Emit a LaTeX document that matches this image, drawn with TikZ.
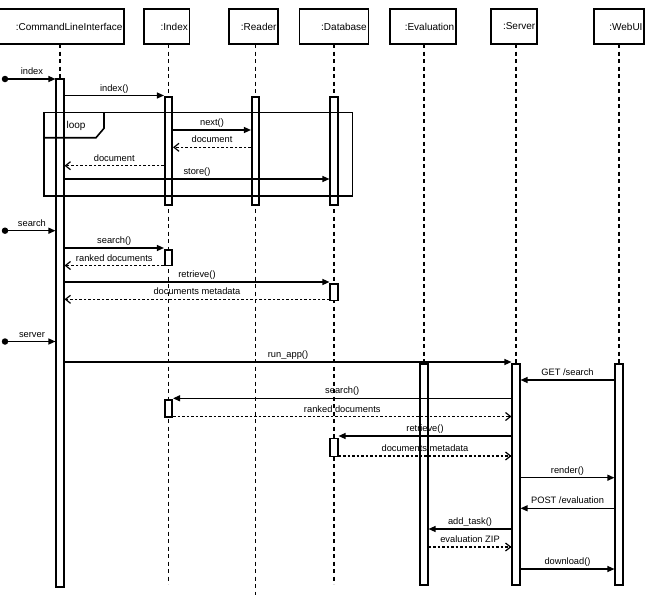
\documentclass[tikz,border=0pt]{standalone}
\usepackage{fontspec}
\setmainfont{Liberation Sans}
\usetikzlibrary{arrows.meta}
\tikzset{
  head/.style={draw=black, line width=1.6pt, fill=white, minimum height=35pt, inner xsep=1.5pt, inner ysep=0pt, align=right, font=\fontsize{10}{12}\selectfont},
  lifeline/.style={line width=1.5pt, draw=black, dash pattern=on 4pt off 3.5pt},
  bar/.style={draw=black, fill=white, line width=1.6pt, minimum width=7.5pt, inner sep=0pt, anchor=north},
  frame/.style={draw=black, line width=1.6pt, line join=miter},
  dot/.style={circle, fill=black, inner sep=0pt, minimum size=6.5pt},
  call/.style={line width=1.2pt, draw=black, -{Triangle[length=7pt,width=6pt]}},
  reply/.style={line width=1.2pt, draw=black, dash pattern=on 2.5pt off 2pt, -{Straight Barb[length=5pt,width=8pt]}},
  msglabel/.style={midway, anchor=base, yshift=4.5pt, inner sep=0pt, font=\fontsize{9.3}{11}\selectfont},
  framelabel/.style={inner sep=0pt, font=\fontsize{10}{12}\selectfont},
}

\begin{document}
\begin{tikzpicture}[x=1pt, y=-1pt]
\useasboundingbox (0,0) rectangle (645,597);
\node[head, text width=122pt] (cliH) at (61.5,26.5) {:CommandLineInterface};
\node[head, text width=42.3pt] (idxH) at (166.7,26.5) {:Index};
\node[head, text width=46pt] (rdrH) at (253.5,26.5) {:Reader};
\node[head, text width=66pt] (dbH) at (333.8,26.5) {:Database};
\node[head, text width=62.7pt] (evlH) at (422.9,26.5) {:Evaluation};
\node[head, text width=42.7pt] (srvH) at (513.9,26.5) {:Server};
\node[head, text width=47pt] (webH) at (619,26.5) {:WebUI};
\draw[lifeline] (60,44) -- (60,586);
\draw[lifeline] (168.5,44) -- (168.5,584);
\draw[lifeline] (255.5,44) -- (255.5,595);
\draw[lifeline] (334,44) -- (334,584);
\draw[lifeline] (424,44) -- (424,584);
\draw[lifeline] (516,44) -- (516,584);
\draw[lifeline] (619,44) -- (619,584);
\node[bar, minimum height=508pt] (cliB) at (60,78) {};
\node[bar, minimum height=108pt] (idxB1) at (168.5,96) {};
\node[bar, minimum height=108pt] (rdrB) at (255.5,96) {};
\node[bar, minimum height=108pt] (dbB1) at (334,96) {};
\node[bar, minimum height=15.5pt] (idxB2) at (168.5,249) {};
\node[bar, minimum height=16.5pt] (dbB2) at (334,283) {};
\node[bar, minimum height=221pt] (evlB) at (424,363) {};
\node[bar, minimum height=221pt] (srvB) at (516,363) {};
\node[bar, minimum height=221pt] (webB) at (619,363) {};
\node[bar, minimum height=17pt] (idxB3) at (168.5,399) {};
\node[bar, minimum height=18pt] (dbB3) at (334,437.5) {};
\draw[frame] (44,112.3) rectangle (352.3,195.7);
\draw[frame] (44,137.7) -- (96,137.7) -- (104,128.3) -- (104,112.3);
\node[framelabel] (loopL) at (76,125.5) {loop};
\node[dot] (indexS) at (5,79) {};
\node[dot] (searchS) at (5,230.7) {};
\node[dot] (serverS) at (5,341.5) {};
\draw[call] (indexS) -- node[msglabel] {index} (cliB.west |- indexS);
\draw[call] (cliB.east |- 0,95.5) -- node[msglabel] {index()} (idxB1.west |- 0,95.5);
\draw[call] (idxB1.east |- 0,130) -- node[msglabel] {next()} (rdrB.west |- 0,130);
\draw[reply] (rdrB.west |- 0,147.3) -- node[msglabel] {document} (idxB1.east |- 0,147.3);
\draw[reply] (idxB1.west |- 0,165.7) -- node[msglabel] {document} (cliB.east |- 0,165.7);
\draw[call] (cliB.east |- 0,179) -- node[msglabel] {store()} (dbB1.west |- 0,179);
\draw[call] (searchS) -- node[msglabel] {search} (cliB.west |- searchS);
\draw[call] (cliB.east |- 0,248) -- node[msglabel] {search()} (idxB2.west |- 0,248);
\draw[reply] (idxB2.west |- 0,265.5) -- node[msglabel] {ranked documents} (cliB.east |- 0,265.5);
\draw[call] (cliB.east |- 0,282) -- node[msglabel] {retrieve()} (dbB2.west |- 0,282);
\draw[reply] (dbB2.west |- 0,299.3) -- node[msglabel] {documents metadata} (cliB.east |- 0,299.3);
\draw[call] (serverS) -- node[msglabel] {server} (cliB.west |- serverS);
\draw[call] (cliB.east |- 0,362) -- node[msglabel] {run\_app()} (srvB.west |- 0,362);
\draw[call] (webB.west |- 0,380) -- node[msglabel] {GET /search} (srvB.east |- 0,380);
\draw[call] (srvB.west |- 0,398.3) -- node[msglabel] {search()} (idxB3.east |- 0,398.3);
\draw[reply] (idxB3.east |- 0,416.5) -- node[msglabel] {ranked documents} (srvB.west |- 0,416.5);
\draw[call] (srvB.west |- 0,436) -- node[msglabel] {retrieve()} (dbB3.east |- 0,436);
\draw[reply] (dbB3.east |- 0,456) -- node[msglabel] {documents metadata} (srvB.west |- 0,456);
\draw[call] (srvB.east |- 0,477.7) -- node[msglabel] {render()} (webB.west |- 0,477.7);
\draw[call] (webB.west |- 0,508.3) -- node[msglabel] {POST /evaluation} (srvB.east |- 0,508.3);
\draw[call] (srvB.west |- 0,529) -- node[msglabel] {add\_task()} (evlB.east |- 0,529);
\draw[reply] (evlB.east |- 0,547) -- node[msglabel] {evaluation ZIP} (srvB.west |- 0,547);
\draw[call] (srvB.east |- 0,569) -- node[msglabel] {download()} (webB.west |- 0,569);
\end{tikzpicture}
\end{document}
